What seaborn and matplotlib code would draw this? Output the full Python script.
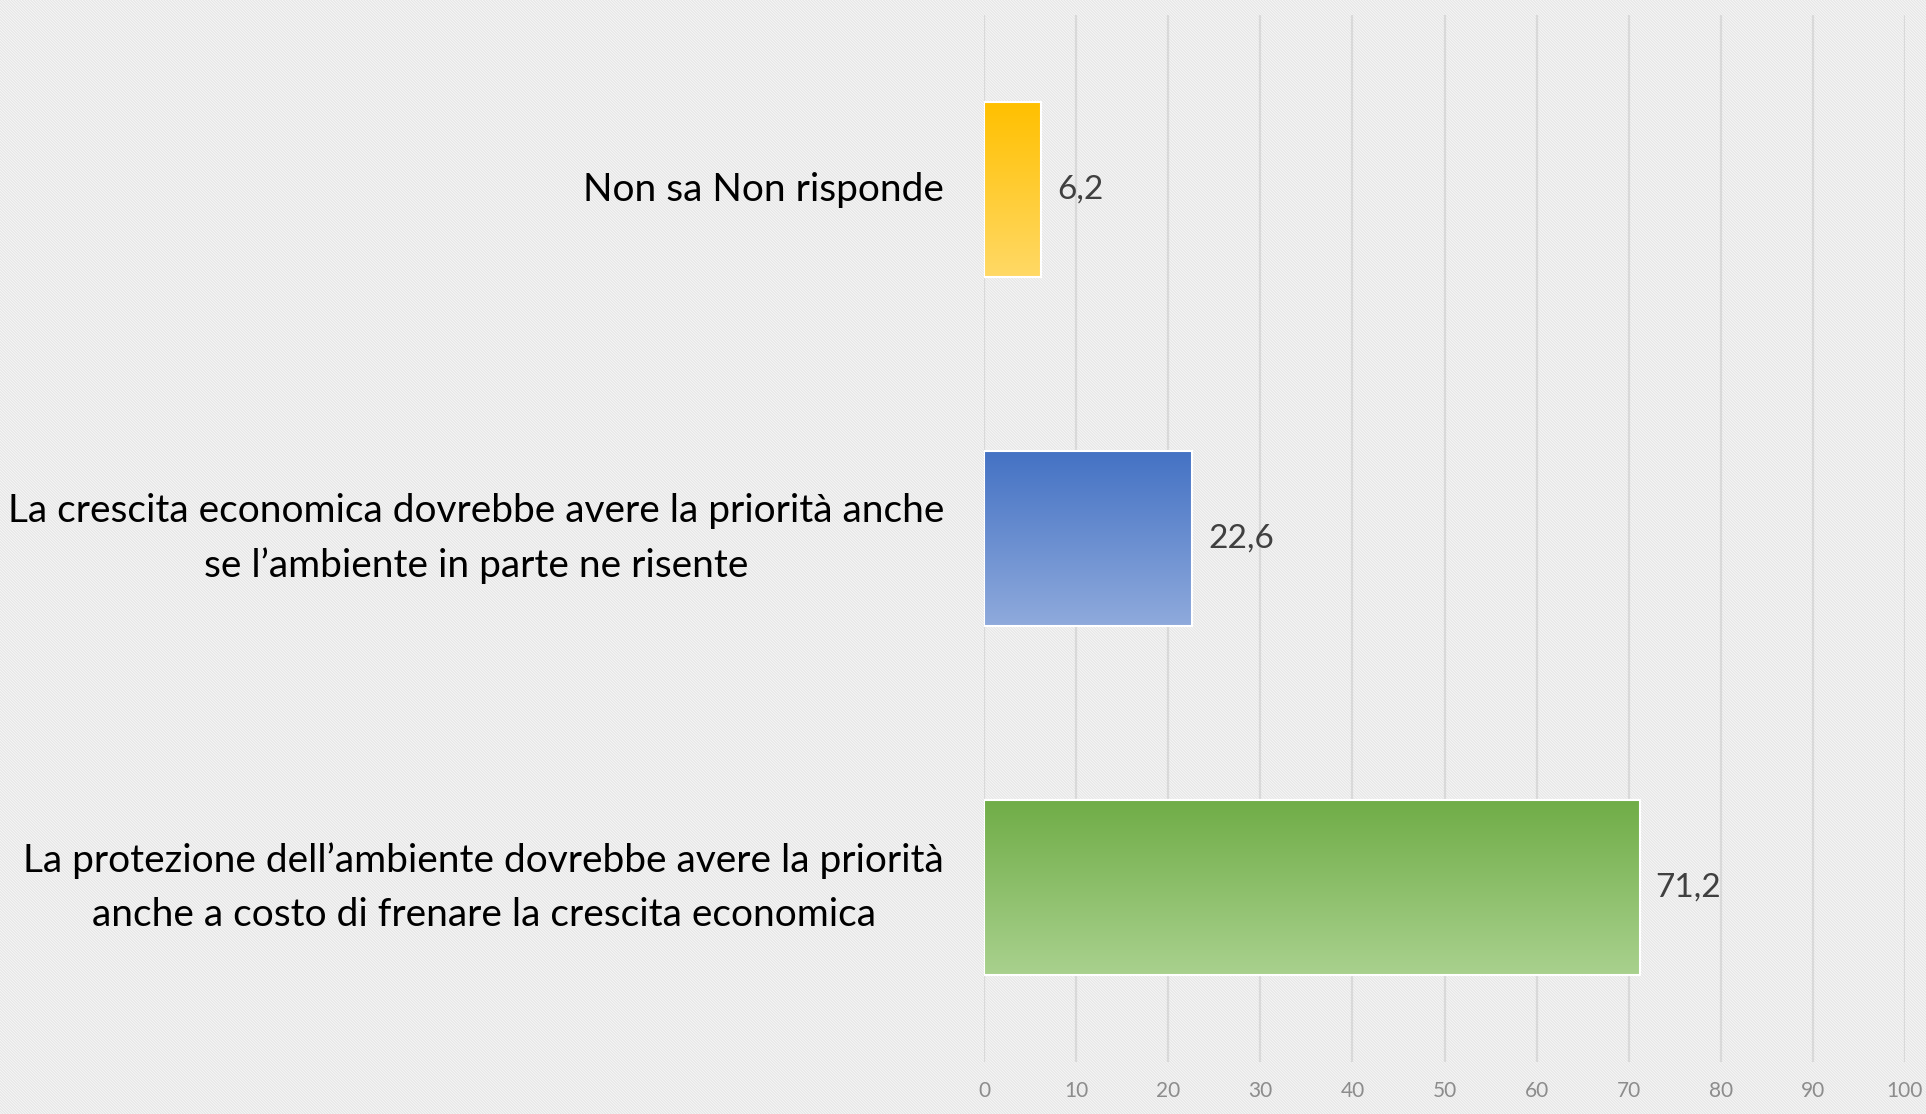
import numpy as np
import pandas as pd
import matplotlib
matplotlib.use("Agg")
import matplotlib.pyplot as plt
from matplotlib.colors import LinearSegmentedColormap
from matplotlib.patches import Rectangle
import seaborn as sns

categories = [
    "Non sa Non risponde",
    "La crescita economica dovrebbe avere la priorità anche\nse l\u2019ambiente in parte ne risente",
    "La protezione dell\u2019ambiente dovrebbe avere la priorità\nanche a costo di frenare la crescita economica",
]
values = [6.2, 22.6, 71.2]
value_labels = ["6,2", "22,6", "71,2"]
top_colors = ["#FFC000", "#4472C4", "#70AD47"]
bottom_colors = ["#FFD966", "#8FAADC", "#A9D18E"]
x_ticks = [0, 10, 20, 30, 40, 50, 60, 70, 80, 90, 100]

sns.set_theme(style="white")
plt.rcParams['font.family'] = ['Lato', 'DejaVu Sans']
plt.rcParams['hatch.linewidth'] = 1.0
plt.rcParams['hatch.color'] = "#e6e6e6"

df = pd.DataFrame({"categoria": categories, "valore": values})

fig = plt.figure(figsize=(19.26, 11.14), dpi=100)
fig.patch.set_facecolor("white")
# diagonal pattern background
bg = Rectangle((0, 0), 1, 1, transform=fig.transFigure, facecolor="white",
               edgecolor="#e6e6e6", hatch="\\" * 12, linewidth=0, zorder=-10)
fig.patches.append(bg)

ax = fig.add_axes([0.511, 0.0467, 0.478, 0.9398])
ax.set_facecolor("none")

sns.barplot(data=df, x="valore", y="categoria", orient="h", width=0.5,
            color="white", edgecolor="white", linewidth=1.5, ax=ax, zorder=3)

for i, patch in enumerate(ax.patches):
    x0, y0 = patch.get_x(), patch.get_y()
    w, h = patch.get_width(), patch.get_height()
    cmap = LinearSegmentedColormap.from_list(f"g{i}", [top_colors[i], bottom_colors[i]])
    grad = np.linspace(0, 1, 256).reshape(-1, 1)
    im = ax.imshow(grad, cmap=cmap, aspect="auto", extent=(x0, x0 + w, y0 + h, y0),
                   origin="upper", zorder=4)
    im.set_clip_path(patch)
    ax.add_patch(Rectangle((x0, y0), w, h, fill=False, edgecolor="white",
                           linewidth=1.5, zorder=5))
    ax.text(w + 1.7, y0 + h / 2, value_labels[i], va="center", ha="left",
            fontsize=24, color="#404040", zorder=6)

ax.set_xlim(0, 100)
ax.set_ylim(2.5, -0.5)
ax.set_xticks(x_ticks)
ax.set_xticklabels([str(t) for t in x_ticks])
ax.xaxis.grid(True, color="#d9d9d9", linewidth=1.6, zorder=0)
ax.yaxis.grid(False)
for s in ax.spines.values():
    s.set_visible(False)
ax.tick_params(axis="x", colors="#8c8c8c", labelsize=15, length=0, pad=14)
ax.tick_params(axis="y", length=0, pad=29)
ax.set_xlabel("")
ax.set_ylabel("")
for lbl in ax.get_yticklabels():
    lbl.set_fontsize(28)
    lbl.set_color("black")
    lbl.set_multialignment("center")
    lbl.set_linespacing(1.6)
    lbl.set_verticalalignment("center")

fig.savefig("out.png", dpi=100, facecolor=fig.get_facecolor())
